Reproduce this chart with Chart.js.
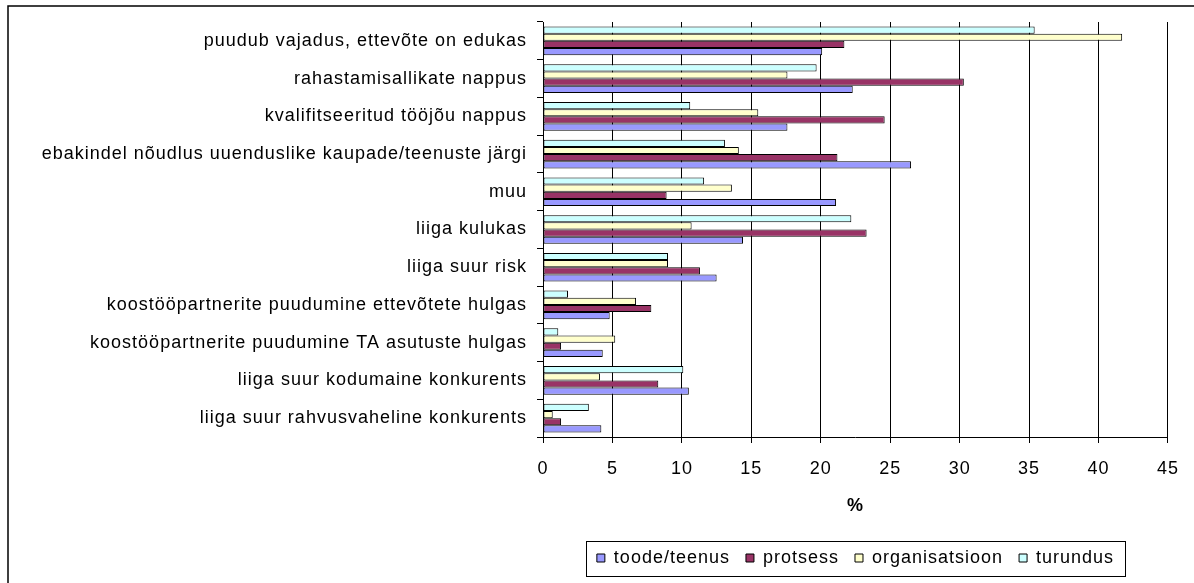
<!DOCTYPE html>
<html>
<head>
<meta charset="utf-8">
<script src="https://cdn.jsdelivr.net/npm/chart.js@4"></script>
<style>
  html, body { margin: 0; padding: 0; background: #fff; }
</style>
</head>
<body>
<canvas id="chart" width="1194" height="583"></canvas>
<script>
// Kategooriad ja väärtused (%)
const categories = [
    'puudub vajadus, ettevõte on edukas',
    'rahastamisallikate nappus',
    'kvalifitseeritud tööjõu nappus',
    'ebakindel nõudlus uuenduslike kaupade/teenuste järgi',
    'muu',
    'liiga kulukas',
    'liiga suur risk',
    'koostööpartnerite puudumine ettevõtete hulgas',
    'koostööpartnerite puudumine TA asutuste hulgas',
    'liiga suur kodumaine konkurents',
    'liiga suur rahvusvaheline konkurents'
];
const toodeTeenus = [20.1, 22.3, 17.6, 26.5, 21.1, 14.4, 12.5, 4.8, 4.3, 10.5, 4.2];
const protsess = [21.7, 30.3, 24.6, 21.2, 8.9, 23.3, 11.3, 7.8, 1.3, 8.3, 1.3];
const organisatsioon = [41.7, 17.6, 15.5, 14.1, 13.6, 10.7, 9.0, 6.7, 5.2, 4.1, 0.7];
const turundus = [35.4, 19.7, 10.6, 13.1, 11.6, 22.2, 9.0, 1.8, 1.1, 10.1, 3.3];
const xMin = 0;
const xMax = 45;
const xStep = 5;

const FONT = '"Liberation Sans", Arial, sans-serif';
const SPACING = '1px';

// tähevahe (Exceli moodi hõredam tekst)
const spacingPlugin = {
    id: 'spacing',
    beforeUpdate(chart) { chart.ctx.letterSpacing = SPACING; },
    beforeLayout(chart) { chart.ctx.letterSpacing = SPACING; },
    beforeDraw(chart) { chart.ctx.letterSpacing = SPACING; }
};

// välimine raam ja legendi kast
const framePlugin = {
    id: 'frame',
    afterDraw(chart) {
        const ctx = chart.ctx;
        ctx.save();
        ctx.strokeStyle = '#000';
        ctx.lineWidth = 1.5;
        ctx.beginPath();
        ctx.moveTo(8, 583);
        ctx.lineTo(8, 6);
        ctx.lineTo(1194, 6);
        ctx.stroke();

        const boxes = chart.legend.legendHitBoxes;
        if (boxes && boxes.length) {
            let left = Infinity, right = -Infinity;
            boxes.forEach(b => {
                left = Math.min(left, b.left);
                right = Math.max(right, b.left + b.width);
            });
            const mid = boxes[0].top + boxes[0].height / 2;
            ctx.lineWidth = 1;
            ctx.strokeRect(Math.round(left - 11) + 0.5, Math.round(mid - 17) + 0.5, Math.round(right - left + 22), 35);
        }
        ctx.restore();
    }
};

const data = {
    labels: categories,
    datasets: [
        { label: 'turundus', data: turundus, backgroundColor: '#CCFFFF' },
        { label: 'organisatsioon', data: organisatsioon, backgroundColor: '#FFFFCC' },
        { label: 'protsess', data: protsess, backgroundColor: '#993366' },
        { label: 'toode/teenus', data: toodeTeenus, backgroundColor: '#9999FF' }
    ].map(d => ({
        ...d,
        borderColor: '#000',
        borderWidth: 1,
        borderSkipped: false,
        categoryPercentage: 0.76,
        barPercentage: 1.0
    }))
};

new Chart(document.getElementById('chart').getContext('2d'), {
    type: 'bar',
    data: data,
    options: {
        indexAxis: 'y',
        responsive: false,
        animation: false,
        layout: { padding: { top: 22, left: 10, right: 24, bottom: 6 } },
        plugins: {
            legend: {
                position: 'bottom',
                fullSize: false,
                reverse: true,
                labels: {
                    boxWidth: 8,
                    boxHeight: 8,
                    padding: 16,
                    color: '#000',
                    font: { family: FONT, size: 18 }
                }
            },
            tooltip: { enabled: false }
        },
        scales: {
            x: {
                min: xMin,
                max: xMax,
                ticks: { stepSize: xStep, color: '#000', padding: 15, font: { family: FONT, size: 18 } },
                grid: { color: '#000', tickColor: '#000', tickLength: 6 },
                border: { color: '#000' },
                title: {
                    display: true,
                    text: '%',
                    color: '#000',
                    font: { family: FONT, size: 18, weight: 'bold' },
                    padding: { top: 10, bottom: 16 }
                },
                afterFit(scale) { scale.height = 96; }
            },
            y: {
                ticks: { color: '#000', padding: 10, autoSkip: false, font: { family: FONT, size: 18 } },
                grid: { drawOnChartArea: false, color: '#000', tickColor: '#000', tickLength: 6, offset: true },
                border: { color: '#000' },
                afterFit(scale) { scale.width = 533; }
            }
        }
    },
    plugins: [spacingPlugin, framePlugin]
});
</script>
</body>
</html>
